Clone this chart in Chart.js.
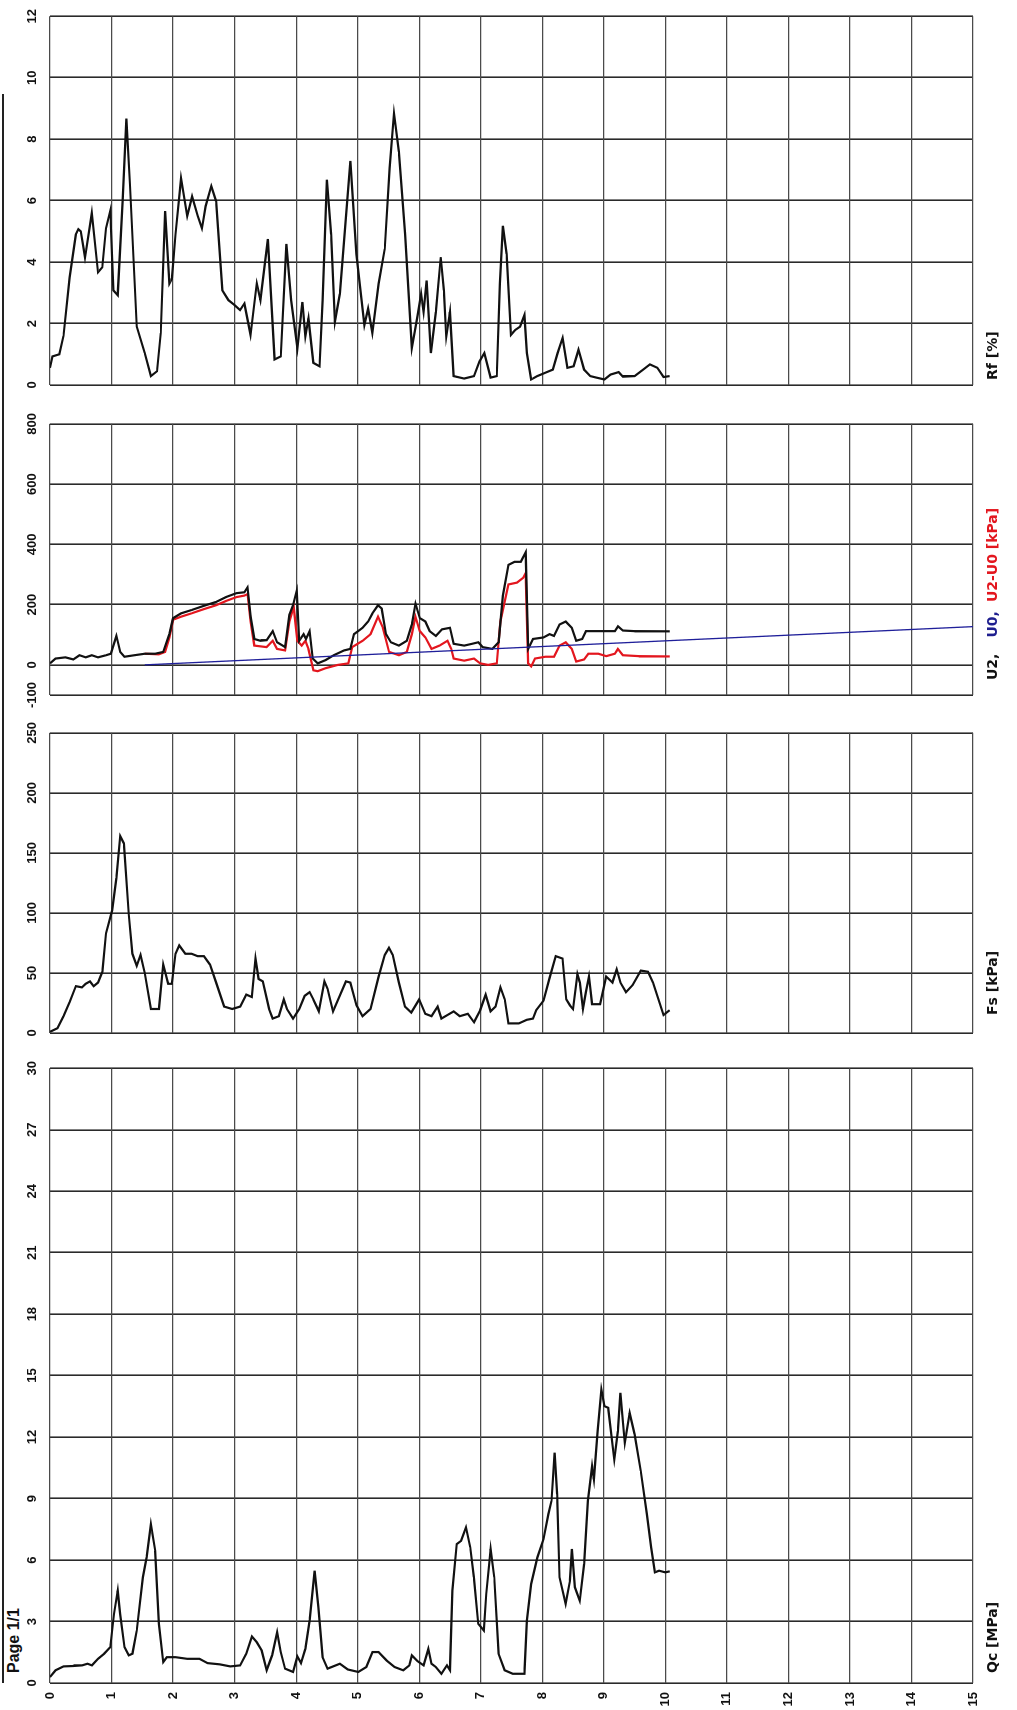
<!DOCTYPE html>
<html>
<head>
<meta charset="utf-8">
<script src="https://cdn.jsdelivr.net/npm/chart.js@4.4.1/dist/chart.umd.min.js"></script>
<style>
  html, body { margin: 0; padding: 0; background: #fff; overflow: hidden; width: 1017px; height: 1710px; }
  /* the sheet is laid out in its natural orientation and turned a quarter left */
  #page { position: absolute; left: 0; top: 0; width: 1710px; height: 1017px;
          transform-origin: 0 0; transform: translateY(1710px) rotate(-90deg); }
  #page canvas { position: absolute; top: 0; }
  .title { position: absolute; top: 984px; font: bold 14px/16px "DejaVu Sans", sans-serif; white-space: nowrap; color: #111; }
  .pageno { position: absolute; left: 37px; top: 5px; font: bold 16px/18px "Liberation Sans", Arial, sans-serif; color: #111; }
  .frame { position: absolute; left: 27px; top: 2px; width: 1589px; height: 0; border-top: 2px solid #222; }
</style>
</head>
<body>
<div id="page">
  <div class="frame"></div>
  <div class="pageno">Page 1/1</div>
  <canvas id="qc"></canvas>
  <canvas id="fs"></canvas>
  <canvas id="u2"></canvas>
  <canvas id="rf"></canvas>
  <div class="title" style="left:37px">Qc [MPa]</div>
  <div class="title" style="left:695px">Fs [kPa]</div>
  <div class="title" style="left:1030px"><span>U2,</span><span style="color:#1f1f8f;margin-left:16px">U0,</span><span style="color:#e3161e;margin-left:9px">U2-U0 [kPa]</span></div>
  <div class="title" style="left:1330px">Rf [%]</div>
</div>

<script>
// tick labels
const depthTicks = [0, 1, 2, 3, 4, 5, 6, 7, 8, 9, 10, 11, 12, 13, 14, 15];
const qcTicks = [0, 3, 6, 9, 12, 15, 18, 21, 24, 27, 30];
const fsTicks = [0, 50, 100, 150, 200, 250];
const u2Ticks = [-100, 0, 200, 400, 600, 800];
const rfTicks = [0, 2, 4, 6, 8, 10, 12];

// profiles: [depth m, value]
const qcProfile = [[0,0.29],[0.09,0.62],[0.22,0.81],[0.38,0.83],[0.52,0.86],[0.61,0.94],[0.68,0.86],[0.78,1.18],[0.88,1.43],[0.98,1.75],
  [1.04,3.37],[1.10,4.51],[1.14,3.37],[1.21,1.75],[1.28,1.35],[1.34,1.43],[1.41,2.56],[1.51,5.16],[1.57,6.13],[1.64,7.75],[1.71,6.45],
  [1.77,2.89],[1.84,1.02],[1.90,1.26],[2.04,1.26],[2.23,1.18],[2.43,1.18],[2.56,0.97],[2.76,0.91],[2.93,0.81],[3.09,0.86],[3.19,1.43],
  [3.28,2.27],[3.36,1.99],[3.44,1.59],[3.52,0.62],[3.61,1.35],[3.69,2.48],[3.75,1.51],[3.82,0.7],[3.95,0.54],[4.02,1.30],[4.08,0.97],
  [4.15,1.67],[4.22,3.05],[4.30,5.48],[4.36,3.70],[4.43,1.26],[4.51,0.70],[4.71,0.94],[4.84,0.66],[5.01,0.54],[5.14,0.78],[5.24,1.51],
  [5.34,1.51],[5.47,1.10],[5.60,0.78],[5.74,0.62],[5.84,0.86],[5.88,1.35],[5.97,1.07],[6.07,0.86],[6.15,1.67],[6.20,0.94],[6.27,0.78],
  [6.36,0.45],[6.45,0.86],[6.50,0.62],[6.54,4.51],[6.61,6.78],[6.68,6.94],[6.76,7.59],[6.83,6.62],[6.89,5.16],[6.96,2.89],[7.05,2.56],
  [7.09,4.35],[7.16,6.54],[7.22,5.16],[7.29,1.43],[7.39,0.62],[7.52,0.45],[7.71,0.45],[7.75,3.05],[7.82,4.83],[7.92,6.13],[8.02,7.02],
  [8.10,8.24],[8.15,8.89],[8.20,11.24],[8.24,9.21],[8.28,5.16],[8.38,3.86],[8.45,4.99],[8.48,6.54],[8.53,4.67],[8.61,4.02],[8.68,5.81],
  [8.74,8.89],[8.81,10.59],[8.84,9.94],[8.90,12.29],[8.96,14.32],[9.01,13.51],[9.07,13.43],[9.17,10.91],[9.23,12.29],[9.27,14.16],
  [9.34,11.73],[9.42,13.18],[9.50,12.13],[9.60,10.35],[9.70,8.24],[9.77,6.62],[9.83,5.40],[9.90,5.48],[10.0,5.40],[10.07,5.45]];

const fsProfile = [[0,1],[0.12,4],[0.22,14],[0.32,26],[0.42,39],[0.52,38],[0.58,41],[0.65,43],[0.71,39],[0.78,42],[0.85,51],[0.91,83],
  [1.01,102],[1.08,129],[1.14,164],[1.20,158],[1.28,99],[1.34,66],[1.41,56],[1.47,65],[1.54,50],[1.64,20],[1.77,20],[1.84,57],[1.92,41],
  [1.98,41],[2.04,66],[2.10,73],[2.20,66],[2.30,66],[2.40,64],[2.50,64],[2.60,57],[2.70,42],[2.83,22],[2.96,20],[3.09,22],[3.19,32],
  [3.28,30],[3.34,62],[3.39,45],[3.46,43],[3.56,20],[3.62,12],[3.72,14],[3.80,28],[3.85,20],[3.95,12],[4.05,20],[4.14,31],[4.22,34],
  [4.28,28],[4.37,18],[4.46,43],[4.51,37],[4.60,18],[4.71,31],[4.81,43],[4.88,42],[4.98,23],[5.08,14],[5.21,20],[5.34,47],[5.44,65],
  [5.51,71],[5.57,65],[5.67,42],[5.77,22],[5.87,17],[6.00,28],[6.10,16],[6.20,14],[6.30,22],[6.36,12],[6.46,15],[6.56,18],[6.66,14],
  [6.79,16],[6.89,9],[6.99,19],[7.08,32],[7.16,18],[7.24,22],[7.32,38],[7.39,28],[7.45,8],[7.62,8],[7.75,11],[7.85,12],[7.90,19],
  [8.02,27],[8.12,46],[8.22,64],[8.33,62],[8.39,28],[8.45,23],[8.50,20],[8.57,49],[8.61,42],[8.66,20],[8.71,34],[8.76,47],[8.81,24],
  [8.94,24],[9.04,47],[9.14,42],[9.21,53],[9.27,42],[9.36,34],[9.47,40],[9.60,52],[9.72,51],[9.80,42],[9.90,26],[9.97,15],[10.07,19]];

const u2Profile = [[0,5],[0.09,21],[0.25,25],[0.38,18],[0.48,32],[0.58,25],[0.68,32],[0.78,25],[0.91,32],[0.99,37],[1.08,96],[1.14,43],
  [1.21,27],[1.37,32],[1.54,37],[1.71,37],[1.84,43],[1.94,102],[2.0,155],[2.13,171],[2.30,182],[2.50,196],[2.70,209],[2.86,225],
  [3.03,238],[3.16,241],[3.21,257],[3.26,160],[3.32,86],[3.42,80],[3.52,82],[3.62,112],[3.69,75],[3.82,59],[3.89,166],[3.95,198],
  [4.01,246],[4.05,80],[4.12,102],[4.16,86],[4.22,112],[4.27,21],[4.35,5],[4.48,16],[4.61,32],[4.78,48],[4.88,53],[4.94,102],[5.08,123],
  [5.17,144],[5.24,171],[5.33,198],[5.39,187],[5.46,102],[5.54,75],[5.67,64],[5.80,80],[5.88,134],[5.94,203],[6.01,155],[6.10,144],
  [6.17,112],[6.27,96],[6.37,118],[6.50,123],[6.56,70],[6.73,64],[6.86,70],[6.96,75],[7.03,59],[7.19,53],[7.29,75],[7.36,230],[7.45,332],
  [7.55,342],[7.65,342],[7.73,374],[7.77,53],[7.85,86],[8.02,91],[8.12,102],[8.19,96],[8.28,134],[8.38,144],[8.48,123],[8.55,80],
  [8.65,86],[8.71,112],[8.88,112],[9.01,112],[9.18,112],[9.23,128],[9.31,114],[9.50,112],[9.77,110],[9.97,112],[10.07,112]];

const u2u0Profile = [[1.54,37],[1.77,35],[1.87,43],[1.94,91],[2.0,150],[2.13,160],[2.30,171],[2.50,185],[2.70,198],[2.86,212],[3.03,225],
  [3.16,230],[3.21,235],[3.26,144],[3.32,64],[3.52,59],[3.62,80],[3.69,53],[3.82,48],[3.89,144],[3.96,193],[4.02,80],[4.09,64],[4.15,80],
  [4.20,53],[4.28,-18],[4.35,-21],[4.48,-11],[4.68,0],[4.85,5],[4.91,59],[5.08,80],[5.21,102],[5.33,160],[5.41,123],[5.51,43],[5.67,32],
  [5.80,43],[5.88,102],[5.94,160],[6.01,112],[6.10,91],[6.20,53],[6.33,64],[6.46,80],[6.52,53],[6.56,21],[6.73,14],[6.89,21],[6.99,5],
  [7.12,0],[7.26,5],[7.32,144],[7.45,267],[7.59,273],[7.69,289],[7.73,305],[7.77,5],[7.82,-5],[7.88,21],[8.05,27],[8.19,27],[8.28,64],
  [8.38,75],[8.48,53],[8.55,11],[8.68,18],[8.75,37],[8.91,37],[9.04,29],[9.18,37],[9.23,53],[9.31,32],[9.57,29],[9.83,27],[10.07,29]];

const u0Profile = [[1.54,0],[15,127]];

const rfProfile = [[0,0.56],[0.04,0.93],[0.15,1.0],[0.22,1.6],[0.32,3.5],[0.42,4.9],[0.46,5.07],[0.50,5.0],[0.57,4.15],[0.68,5.6],
  [0.78,3.67],[0.85,3.83],[0.91,5.1],[0.98,5.66],[1.03,3.08],[1.10,2.92],[1.18,5.98],[1.24,8.67],[1.30,6.5],[1.41,1.9],[1.54,1.04],
  [1.64,0.29],[1.74,0.45],[1.80,1.69],[1.87,5.66],[1.94,3.3],[1.98,3.46],[2.04,4.9],[2.13,6.73],[2.23,5.5],[2.31,6.14],[2.40,5.5],
  [2.47,5.1],[2.53,5.82],[2.62,6.47],[2.70,5.98],[2.80,3.08],[2.90,2.76],[3.00,2.6],[3.09,2.44],[3.16,2.65],[3.26,1.63],[3.36,3.3],
  [3.42,2.76],[3.54,4.75],[3.65,0.83],[3.75,0.93],[3.84,4.59],[3.92,2.76],[4.02,1.2],[4.10,2.7],[4.15,1.58],[4.20,2.17],[4.28,0.72],
  [4.38,0.61],[4.43,2.76],[4.50,6.68],[4.57,4.9],[4.63,2.06],[4.71,2.97],[4.88,7.29],[4.98,4.26],[5.11,1.95],[5.17,2.49],[5.24,1.69],
  [5.34,3.3],[5.44,4.43],[5.52,7.06],[5.59,8.83],[5.67,7.59],[5.77,4.9],[5.88,1.2],[5.97,2.22],[6.03,2.97],[6.07,2.38],[6.12,3.4],
  [6.19,1.04],[6.27,2.38],[6.35,4.16],[6.40,3.08],[6.44,1.58],[6.50,2.38],[6.56,0.29],[6.73,0.21],[6.89,0.29],[6.98,0.77],[7.06,1.04],
  [7.16,0.24],[7.26,0.29],[7.31,3.3],[7.36,5.18],[7.42,4.26],[7.49,1.63],[7.56,1.79],[7.64,1.9],[7.71,2.28],[7.75,1.04],[7.82,0.18],
  [7.92,0.29],[8.05,0.4],[8.17,0.5],[8.25,1.04],[8.33,1.53],[8.41,0.56],[8.51,0.61],[8.59,1.15],[8.68,0.5],[8.78,0.29],[8.88,0.24],
  [9.01,0.18],[9.11,0.34],[9.24,0.42],[9.31,0.27],[9.50,0.29],[9.64,0.5],[9.75,0.67],[9.87,0.56],[9.97,0.26],[10.07,0.29]];

Chart.defaults.font.family = "'Liberation Sans', Arial, sans-serif";
Chart.defaults.font.weight = "bold";
Chart.defaults.font.size = 13;
Chart.defaults.color = "#111";

const PLOT_TOP = 50;     // top of plot inside the sheet
const PLOT_BOTTOM = 973; // bottom of plot (depth 15)
const SHEET_H = 1017;
const LEFT_SPACE = 30;
const RIGHT_SPACE = 14;

const toPoints = (profile) => profile.map(([d, v]) => ({ x: v, y: d }));

function makePanel(id, left, right, min, max, ticks, series, showDepth) {
  const canvas = document.getElementById(id);
  canvas.width = right - left + LEFT_SPACE + RIGHT_SPACE;
  canvas.height = SHEET_H;
  canvas.style.left = (left - LEFT_SPACE) + "px";

  return new Chart(canvas, {
    type: "line",
    data: {
      datasets: series.map((s) => ({
        data: toPoints(s.data),
        borderColor: s.color,
        borderWidth: s.width,
        pointRadius: 0,
        tension: 0,
        fill: false,
      })),
    },
    options: {
      responsive: false,
      animation: false,
      devicePixelRatio: 1,
      indexAxis: "y",
      layout: { padding: { left: 0, right: RIGHT_SPACE, top: 0, bottom: SHEET_H - PLOT_BOTTOM } },
      plugins: { legend: { display: false }, tooltip: { enabled: false } },
      scales: {
        x: {
          type: "linear",
          position: "top",
          min, max,
          afterBuildTicks: (scale) => { scale.ticks = ticks.map((v) => ({ value: v })); },
          afterFit: (scale) => { scale.height = PLOT_TOP; },
          ticks: { padding: 10, autoSkip: false, maxRotation: 0, minRotation: 0 },
          grid: { color: "#2a2a2a", lineWidth: 1.6, drawTicks: false },
          border: { display: false },
        },
        y: {
          type: "linear",
          position: "left",
          reverse: true,
          min: 0, max: 15,
          afterBuildTicks: (scale) => { scale.ticks = depthTicks.map((v) => ({ value: v })); },
          afterFit: (scale) => { scale.width = LEFT_SPACE; },
          ticks: { display: showDepth, padding: 9, autoSkip: false },
          grid: { color: "#4a4a4a", lineWidth: 1.2, drawTicks: false },
          border: { display: false },
        },
      },
    },
  });
}

makePanel("qc", 27, 645, 0, 30, qcTicks, [{ data: qcProfile, color: "#111", width: 2.2 }], true);
makePanel("fs", 677, 984, 0, 250, fsTicks, [{ data: fsProfile, color: "#111", width: 2.2 }], false);
makePanel("u2", 1015, 1293, -100, 800, u2Ticks, [
  { data: u0Profile, color: "#1f1f9a", width: 1.3 },
  { data: u2Profile, color: "#111", width: 2.2 },
  { data: u2u0Profile, color: "#e3161e", width: 2.2 },
], false);
makePanel("rf", 1325, 1697, 0, 12, rfTicks, [{ data: rfProfile, color: "#111", width: 2.2 }], false);
</script>
</body>
</html>
